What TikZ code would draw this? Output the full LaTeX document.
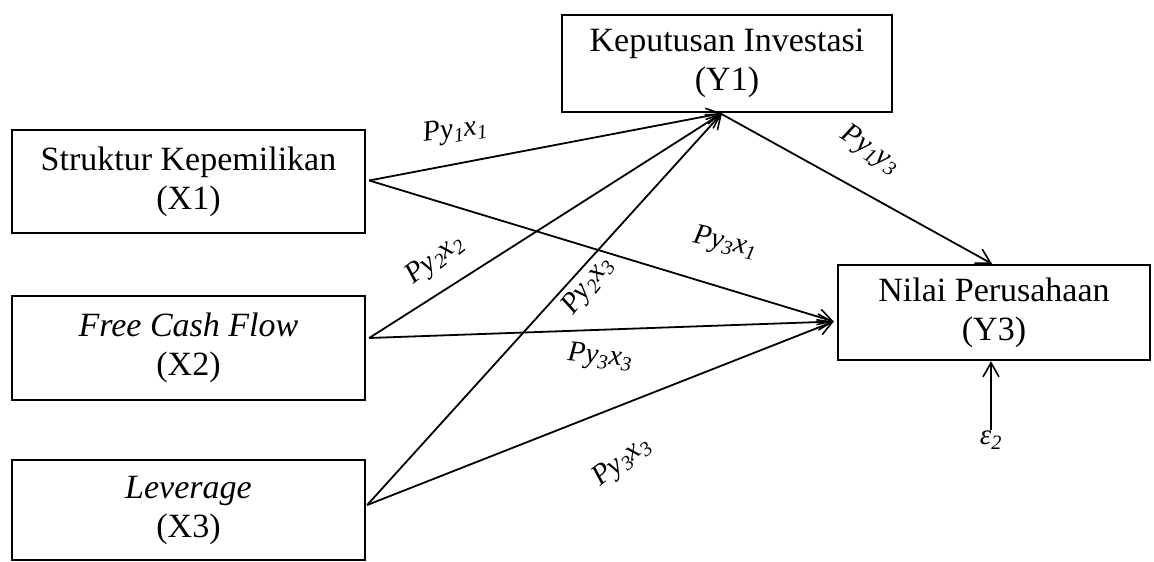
\documentclass[tikz,border=0pt]{standalone}
\usepackage{fontspec}
\setmainfont{Liberation Serif}[
  UprightFont={Liberation Serif},
  ItalicFont={Liberation Serif Italic},
  BoldFont={Liberation Serif Bold}]
\usetikzlibrary{arrows.meta}
\begin{document}
\begin{tikzpicture}[x=1pt,y=-1pt,
  var/.style={draw,line width=2.4pt,rectangle,align=center,inner sep=0pt,
    font=\fontsize{34}{39}\selectfont},
  path/.style={line width=1.8pt,-{Straight Barb[length=14pt,width=16pt,line width=1.6pt]}},
  coef/.style={font=\fontsize{29}{32}\selectfont\itshape,inner sep=1pt}]
\useasboundingbox (0,0) rectangle (1154,562);
\fill[white] (0,0) rectangle (1154,562);

% variables
\node[var,minimum width=353pt,minimum height=103pt] (X1) at (188.5,181.5)
  {Struktur Kepemilikan\\(X1)};
\node[var,minimum width=353pt,minimum height=104pt] (X2) at (188.5,348)
  {\textit{Free Cash Flow}\\(X2)};
\node[var,minimum width=353pt,minimum height=100pt] (X3) at (188.5,510)
  {\textit{Leverage}\\(X3)};
\node[var,minimum width=330pt,minimum height=97pt] (Y1) at (727,63.5)
  {Keputusan Investasi\\(Y1)};
\node[var,minimum width=312pt,minimum height=95pt] (Y3) at (994,312.5)
  {Nilai Perusahaan\\(Y3)};
\node[coef] (e2) at (991,440) {ε\textsubscript{2}};

% arrow meeting points
\coordinate (inY1) at ([xshift=-5pt]Y1.south);
\coordinate (inY3) at ([yshift=-9pt,xshift=-3pt]Y3.west);
\coordinate (oX1) at ([xshift=3pt,yshift=1pt]X1.east);
\coordinate (oX2) at ([xshift=3pt,yshift=10pt]X2.east);
\coordinate (oX3) at ([xshift=1pt,yshift=5pt]X3.east);

% paths
\draw[path] (oX1) -- (inY1);
\draw[path] (oX2) -- (inY1);
\draw[path] (oX3) -- (inY1);
\draw[path] (oX1) -- (inY3);
\draw[path] (oX2) -- (inY3);
\draw[path] (oX3) -- (inY3);
\draw[path] ([xshift=-7pt]Y1.south) -- ([xshift=-2pt]Y3.north);
\draw[path] (e2.north) -- ([xshift=-3pt]Y3.south);

% path coefficients
\node[coef,rotate=8]   (c11) at (455,131) {Py\textsubscript{1}x\textsubscript{1}};
\node[coef,rotate=38]  (c22) at (435,260) {Py\textsubscript{2}x\textsubscript{2}};
\node[coef,rotate=52]  (c23) at (588,286) {Py\textsubscript{2}x\textsubscript{3}};
\node[coef,rotate=-12] (c31) at (725,243) {Py\textsubscript{3}x\textsubscript{1}};
\node[coef,rotate=-5]  (c32) at (600,357) {Py\textsubscript{3}x\textsubscript{3}};
\node[coef,rotate=38]  (c33) at (622,462) {Py\textsubscript{3}x\textsubscript{3}};
\node[coef,rotate=-33] (c13) at (870,150) {Py\textsubscript{1}y\textsubscript{3}};
\end{tikzpicture}
\end{document}
